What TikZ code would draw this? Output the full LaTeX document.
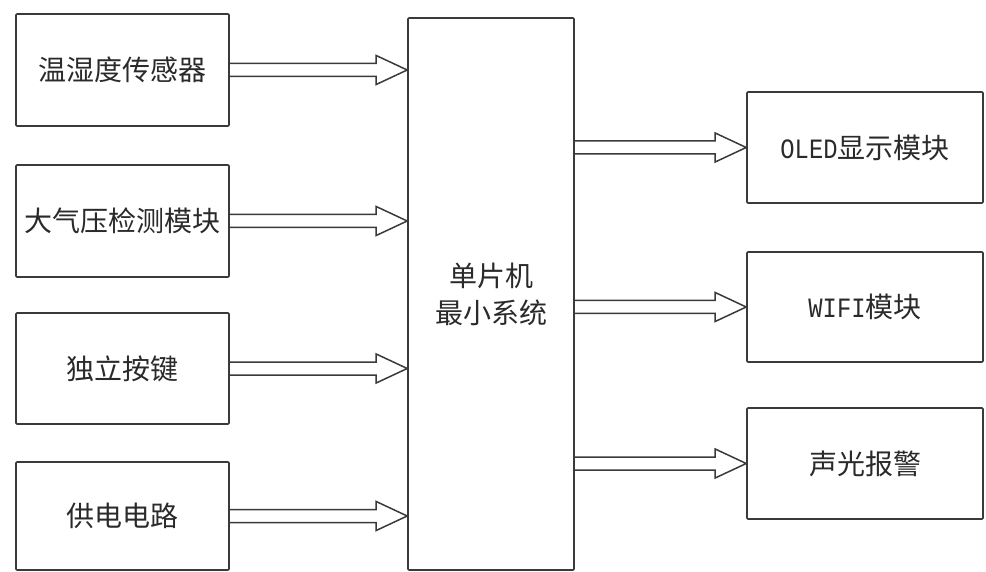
\documentclass[tikz,border=0pt]{standalone}
\usepackage{fontspec}
\setmainfont{Noto Sans CJK SC}
\newfontfamily\latmono[FakeStretch=0.85]{Liberation Mono}
\usetikzlibrary{calc}
\definecolor{linegray}{HTML}{3A3A3A}
\definecolor{txtgray}{HTML}{2A2A2A}
\tikzset{
  blockbox/.style={draw=linegray, line width=1.6pt, rounded corners=1pt, fill=white,
    inner sep=0pt, text=txtgray, font=\fontsize{28}{32}\selectfont, align=center},
  hollowarrow/.style={draw=linegray, line width=1.5pt, line join=miter}
}
\newcommand{\hollowarr}[3]{% from-x-point, to-x-point, y-point
  \path let \p1=(#1), \p2=(#2), \p3=(#3) in
    [hollowarrow] (\x1,\y3+6.5pt) -- (\x2-31pt,\y3+6.5pt) -- (\x2-31pt,\y3+14.5pt)
    -- (\x2,\y3) -- (\x2-31pt,\y3-14.5pt) -- (\x2-31pt,\y3-6.5pt) -- (\x1,\y3-6.5pt);
}
\begin{document}
\begin{tikzpicture}[x=1pt,y=-1pt]
\useasboundingbox (0,0) rectangle (986,572);
% left column
\node[blockbox, minimum width=213pt, minimum height=112pt] (s1) at (122.5,70) {温湿度传感器};
\node[blockbox, minimum width=213pt, minimum height=112pt] (s2) at (122.5,221) {大气压检测模块};
\node[blockbox, minimum width=213pt, minimum height=111pt] (s3) at (122.5,368.5) {独立按键};
\node[blockbox, minimum width=213pt, minimum height=108pt] (s4) at (122.5,516) {供电电路};
% MCU
\node[blockbox, minimum width=166pt, minimum height=552pt, font=\fontsize{28}{37}\selectfont] (mcu) at (491,294) {单片机\\最小系统};
% right column
\node[blockbox, minimum width=236pt, minimum height=111pt] (o1) at (865,147.5) {{\latmono OLED}显示模块};
\node[blockbox, minimum width=236pt, minimum height=110pt] (o2) at (865,307) {{\latmono WIFI}模块};
\node[blockbox, minimum width=236pt, minimum height=111pt] (o3) at (865,463.5) {声光报警};
% arrows
\hollowarr{s1.east}{mcu.west}{s1.east}
\hollowarr{s2.east}{mcu.west}{s2.east}
\hollowarr{s3.east}{mcu.west}{s3.east}
\hollowarr{s4.east}{mcu.west}{s4.east}
\hollowarr{mcu.east}{o1.west}{o1.west}
\hollowarr{mcu.east}{o2.west}{o2.west}
\hollowarr{mcu.east}{o3.west}{o3.west}
\end{tikzpicture}
\end{document}
